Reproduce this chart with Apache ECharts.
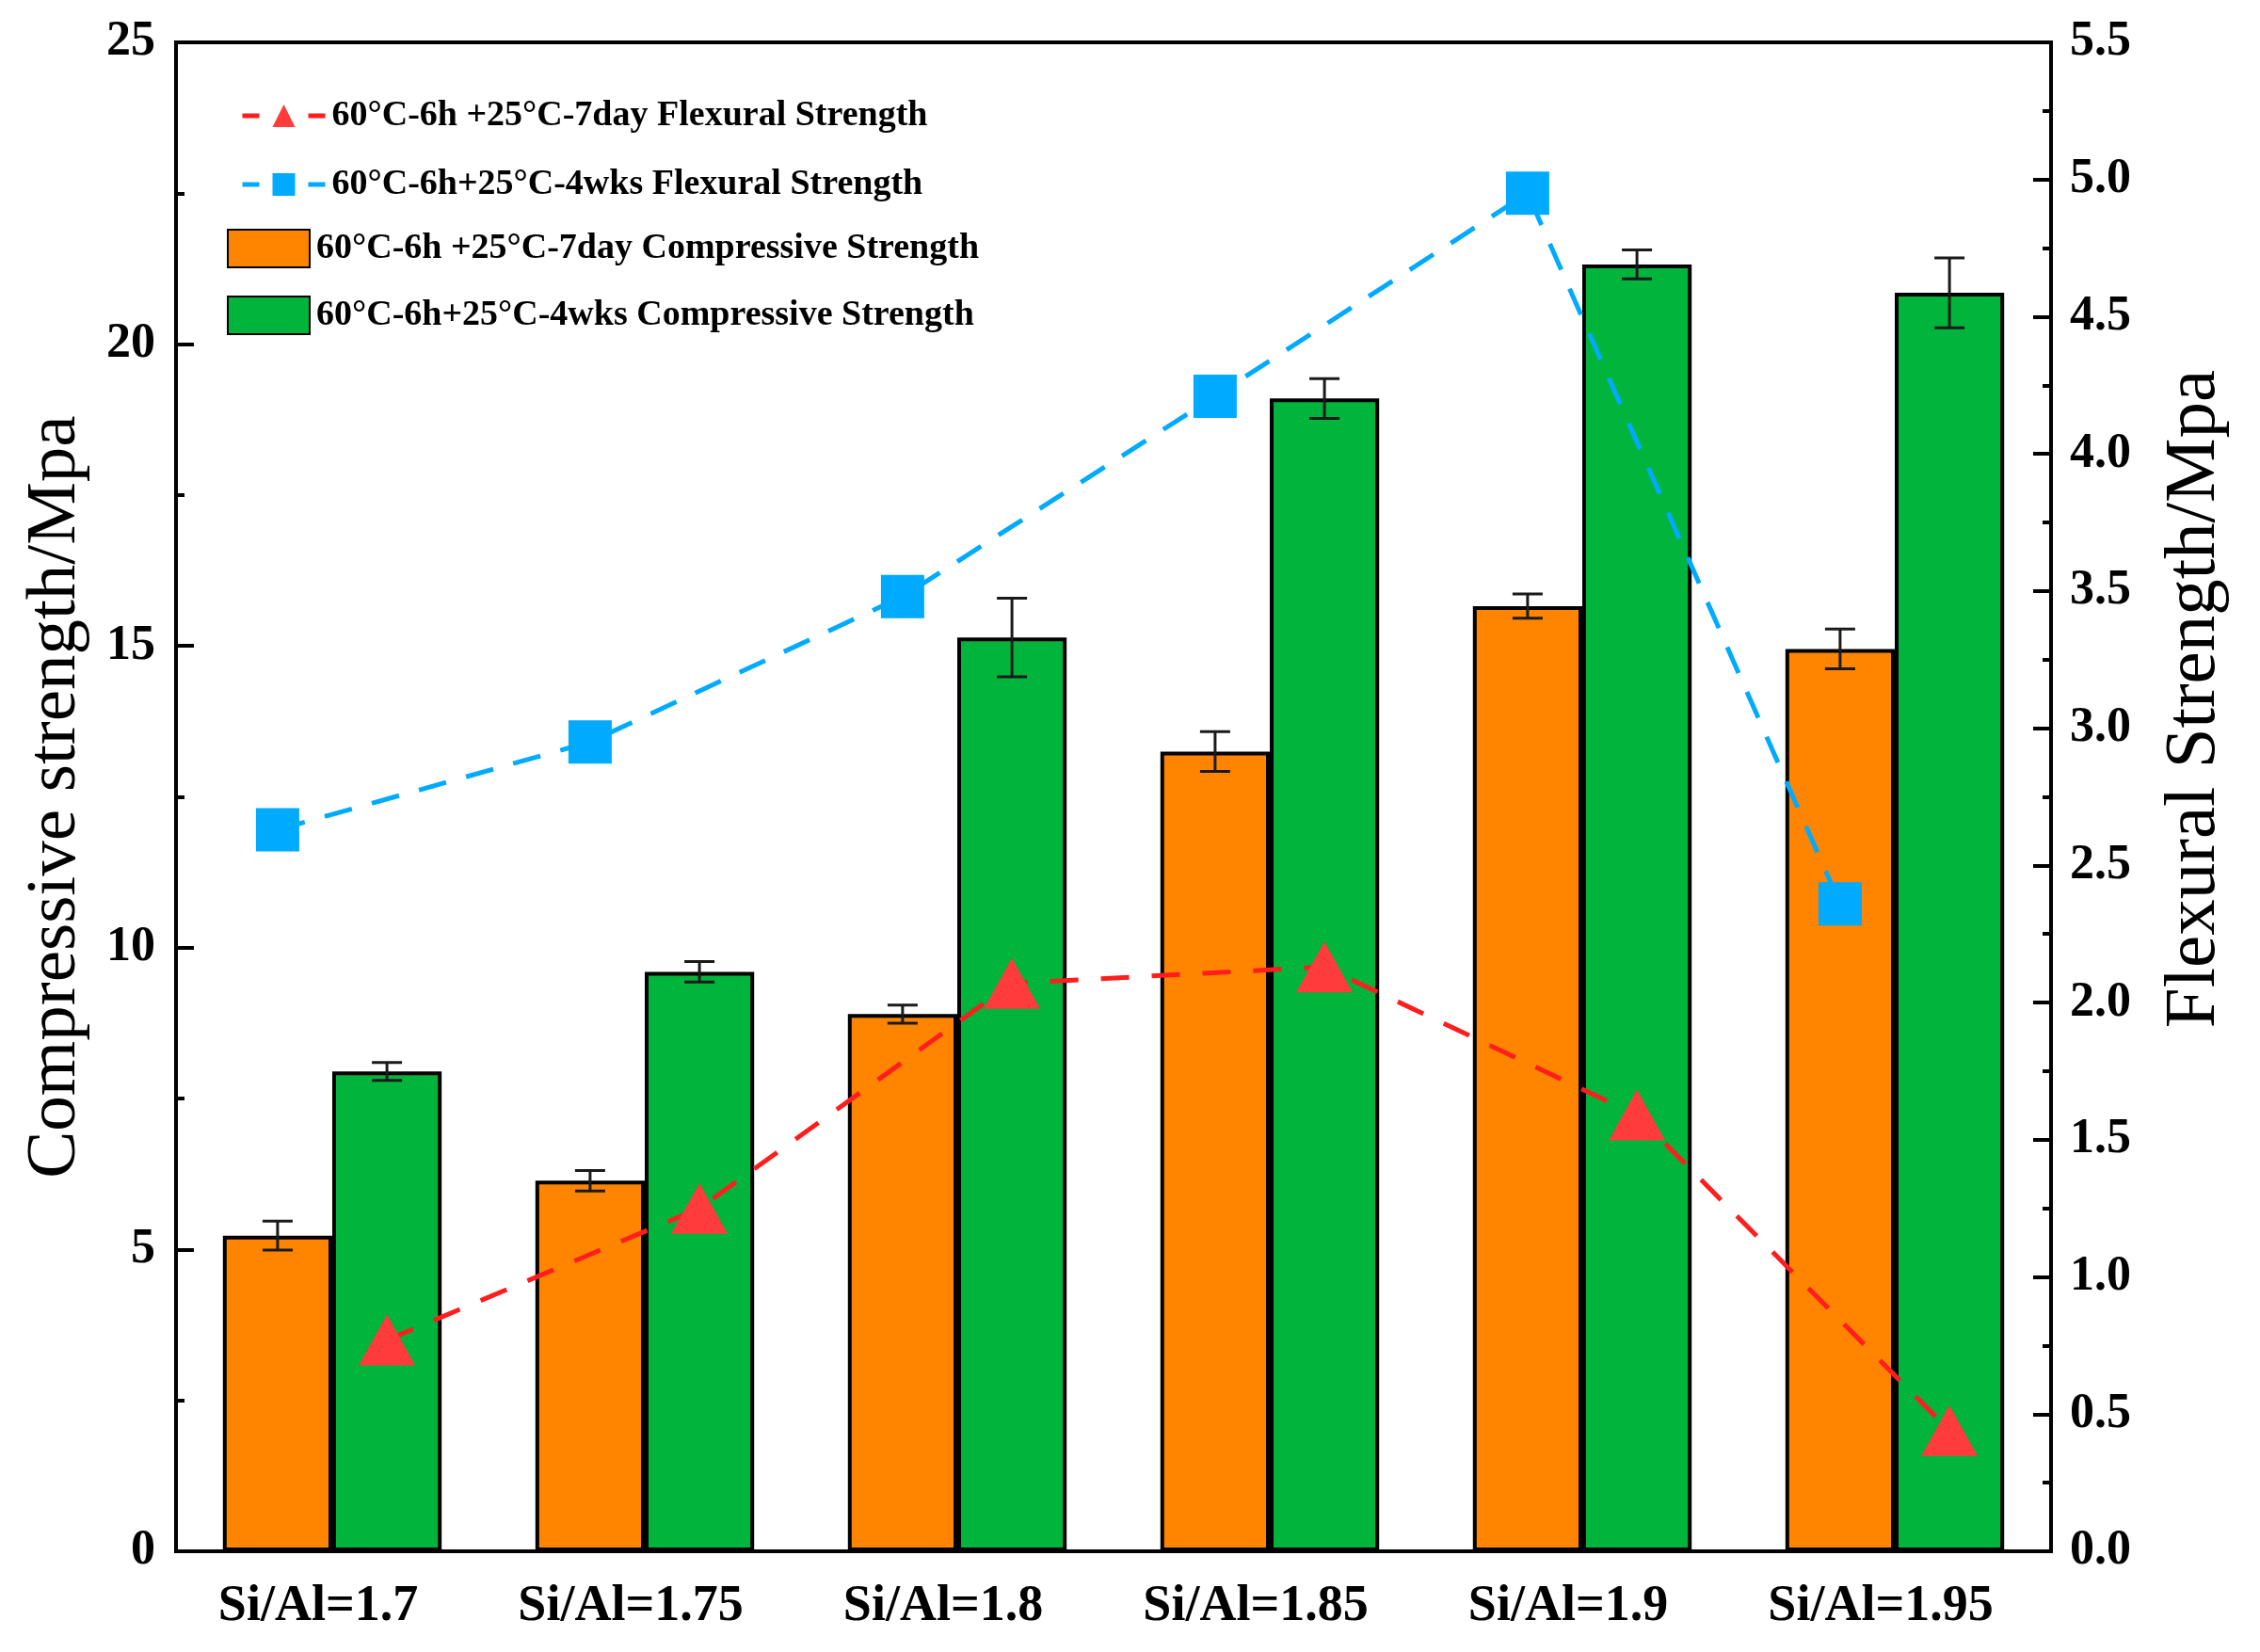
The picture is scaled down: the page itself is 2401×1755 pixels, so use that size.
<!DOCTYPE html>
<html>
<head>
<meta charset="utf-8">
<script src="https://cdn.jsdelivr.net/npm/echarts@6/dist/echarts.min.js"></script>
<style>
html,body{margin:0;padding:0;background:#fff;}
#chart{width:2401px;height:1755px;}
</style>
</head>
<body>
<div id="chart"></div>
<script>
// ---- data ----
const categories = ['Si/Al=1.7', 'Si/Al=1.75', 'Si/Al=1.8', 'Si/Al=1.85', 'Si/Al=1.9', 'Si/Al=1.95'];
const comp7day    = [5.23, 6.14, 8.90, 13.25, 15.66, 14.95];
const comp7dayErr = [0.24, 0.17, 0.15, 0.33, 0.20, 0.33];
const comp4wks    = [7.95, 9.60, 15.14, 19.10, 21.32, 20.85];
const comp4wksErr = [0.15, 0.17, 0.65, 0.33, 0.24, 0.58];
const flex7day    = [0.77, 1.25, 2.07, 2.13, 1.59, 0.44];
const flex4wks    = [2.63, 2.95, 3.48, 4.21, 4.95, 2.36];
const leftAxis  = {min: 0, max: 25, interval: 5};
const rightAxis = {min: 0, max: 5.5, interval: 0.5};
const names = {
  flex7: '60°C-6h +25°C-7day Flexural Strength',
  flex4: '60°C-6h+25°C-4wks Flexural Strength',
  comp7: '60°C-6h +25°C-7day Compressive Strength',
  comp4: '60°C-6h+25°C-4wks Compressive Strength'
};

// ---- styling ----
const BAR_FRAC = 0.35;           // bar width as fraction of a category
const HALF = BAR_FRAC / 2;       // offset of a bar centre from the category centre
const FONT = '"Liberation Serif", "Times New Roman", serif';
const ORANGE = '#FF8400', GREEN = '#00B43C', BLUE = '#00AAFF', RED = '#FF3B3B', REDLINE = '#FF1E1E';

const chart = echarts.init(document.getElementById('chart'), null, {renderer: 'canvas'});

function errData(vals, errs, off) {
  return vals.map((v, i) => [i + off, v, errs[i]]);
}
function errRender(params, api) {
  const x = api.value(0), y = api.value(1), e = api.value(2);
  const t = api.coord([x, y + e]);
  const b = api.coord([x, y - e]);
  const hw = 16;
  const st = {stroke: '#1a1a1a', lineWidth: 3};
  return {
    type: 'group',
    children: [
      {type: 'line', shape: {x1: t[0], y1: t[1], x2: b[0], y2: b[1]}, style: st},
      {type: 'line', shape: {x1: t[0] - hw, y1: t[1], x2: t[0] + hw, y2: t[1]}, style: st},
      {type: 'line', shape: {x1: b[0] - hw, y1: b[1], x2: b[0] + hw, y2: b[1]}, style: st}
    ]
  };
}

const axisCommon = {
  type: 'value',
  axisLine: {show: true, onZero: false, lineStyle: {color: '#000', width: 4}},
  axisTick: {show: true, inside: true, length: 19, lineStyle: {color: '#000', width: 4}},
  minorTick: {show: true, splitNumber: 2, length: 9, lineStyle: {color: '#000', width: 4}},
  splitLine: {show: false},
  nameLocation: 'middle',
  nameRotate: 90,
  nameTextStyle: {fontFamily: FONT, fontSize: 75, color: '#000'},
  axisLabel: {fontFamily: FONT, fontSize: 52, fontWeight: 'bold', color: '#000', margin: 22}
};

const legendText = {fontFamily: FONT, fontSize: 38, fontWeight: 'bold', color: '#000', lineHeight: 40};

const option = {
  backgroundColor: '#fff',
  animation: false,
  grid: {left: 187, right: 222, top: 45, bottom: 107, show: true, borderColor: '#000', borderWidth: 4},
  legend: [
    {
      data: [
        {name: names.flex7, lineStyle: {width: 5, type: [18, 52], color: REDLINE}},
        {name: names.flex4, lineStyle: {width: 5, type: [18, 52], color: BLUE}}
      ],
      orient: 'vertical', left: 250, top: 98,
      itemWidth: 88, itemHeight: 30, itemGap: 33,
      textStyle: Object.assign({padding: [0, 0, 0, 2]}, legendText)
    },
    {
      data: [{name: names.comp7, icon: 'rect'}, {name: names.comp4, icon: 'rect'}],
      orient: 'vertical', left: 236, top: 238,
      itemWidth: 87, itemHeight: 40, itemGap: 29,
      textStyle: Object.assign({padding: [0, 0, 0, 2]}, legendText)
    }
  ],
  xAxis: [
    {
      type: 'category', data: categories, boundaryGap: true,
      axisLine: {show: true, lineStyle: {color: '#000', width: 4}},
      axisTick: {show: false},
      axisLabel: {fontFamily: FONT, fontSize: 54, fontWeight: 'bold', color: '#000', margin: 32, padding: [0, 30, 0, 0]}
    },
    {type: 'value', min: -0.5, max: categories.length - 0.5, show: false}
  ],
  yAxis: [
    Object.assign({}, axisCommon, {
      position: 'left', min: leftAxis.min, max: leftAxis.max, interval: leftAxis.interval,
      name: 'Compressive strength/Mpa', nameGap: 90
    }),
    Object.assign({}, axisCommon, {
      position: 'right', min: rightAxis.min, max: rightAxis.max, interval: rightAxis.interval,
      name: 'Flexural Strength/Mpa', nameGap: 114,
      nameTextStyle: Object.assign({}, axisCommon.nameTextStyle, {fontSize: 77, padding: [0, 0, 0, 208]}),
      axisLabel: Object.assign({}, axisCommon.axisLabel, {margin: 20, formatter: v => v.toFixed(1)})
    })
  ],
  series: [
    {
      name: names.comp7, type: 'bar', data: comp7day, xAxisIndex: 0, yAxisIndex: 0,
      barWidth: (BAR_FRAC * 100) + '%', barGap: '0%',
      itemStyle: {color: ORANGE, borderColor: '#000', borderWidth: 4}, z: 2
    },
    {
      name: names.comp4, type: 'bar', data: comp4wks, xAxisIndex: 0, yAxisIndex: 0,
      barWidth: (BAR_FRAC * 100) + '%', barGap: '0%',
      itemStyle: {color: GREEN, borderColor: '#000', borderWidth: 4}, z: 2
    },
    {
      type: 'custom', xAxisIndex: 1, yAxisIndex: 0, renderItem: errRender,
      data: errData(comp7day, comp7dayErr, -HALF), z: 3, silent: true
    },
    {
      type: 'custom', xAxisIndex: 1, yAxisIndex: 0, renderItem: errRender,
      data: errData(comp4wks, comp4wksErr, HALF), z: 3, silent: true
    },
    {
      name: names.flex7, type: 'line', xAxisIndex: 1, yAxisIndex: 1,
      data: flex7day.map((v, i) => [i + HALF, v]),
      symbol: 'triangle', symbolSize: [60, 54],
      itemStyle: {color: RED},
      lineStyle: {color: REDLINE, width: 5, type: [30, 24]}, z: 5
    },
    {
      name: names.flex4, type: 'line', xAxisIndex: 1, yAxisIndex: 1,
      data: flex4wks.map((v, i) => [i - HALF, v]),
      symbol: 'rect', symbolSize: 46,
      itemStyle: {color: BLUE},
      lineStyle: {color: BLUE, width: 5, type: [30, 22]}, z: 5
    }
  ]
};
chart.setOption(option);
</script>
</body>
</html>
